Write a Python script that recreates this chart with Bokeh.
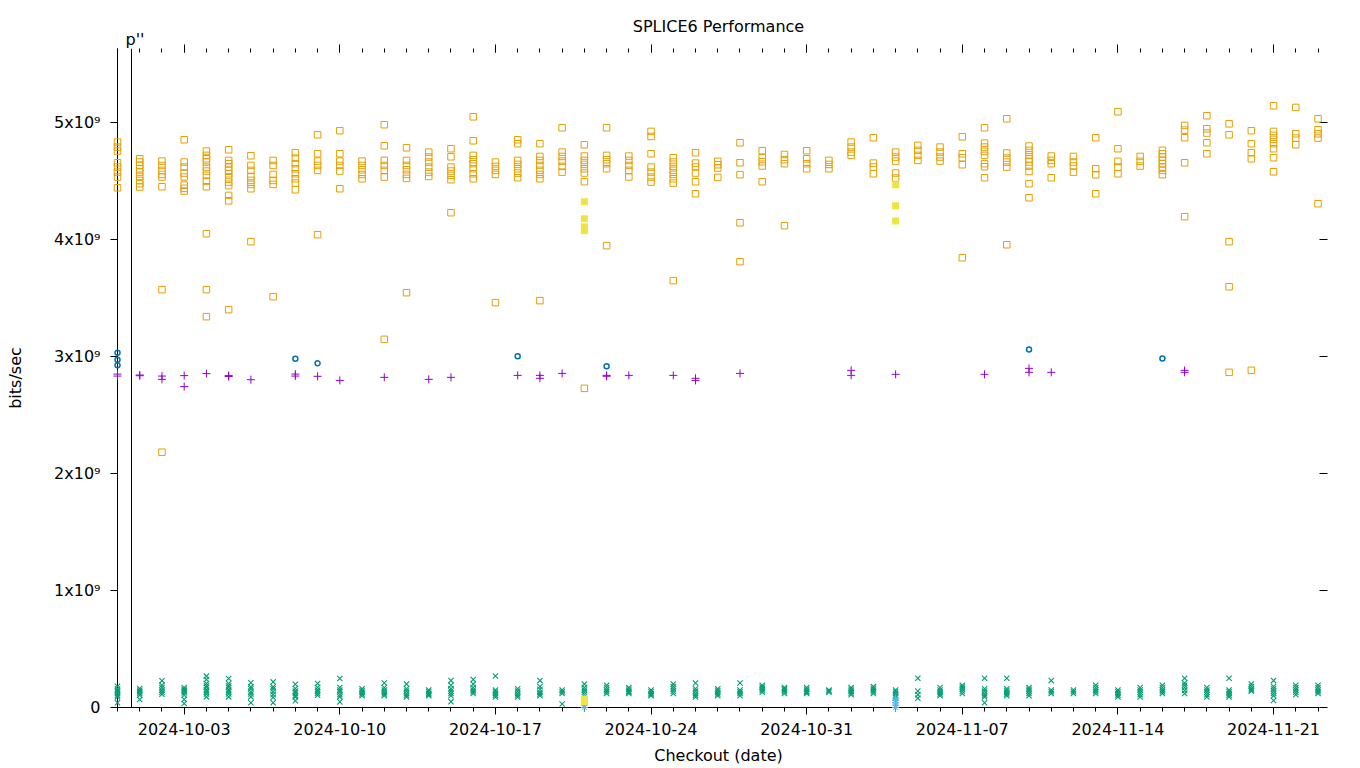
import datetime as dt
from bokeh.plotting import figure
from bokeh.models import (Range1d, FixedTicker, DatetimeTickFormatter, LinearAxis, Span,
                          CustomLabelingPolicy)
from bokeh.core.properties import value
from bokeh.embed import file_html
from bokeh.resources import INLINE

UNIT = 1e9  # values below are in units of 10^9 bits/sec

title_text = "SPLICE6 Performance"
x_label_text = "Checkout (date)"
y_label_text = "bits/sec"
start_day = "2024-09-30"
n_days = 55
x_tick_labels = ["2024-10-03", "2024-10-10", "2024-10-17", "2024-10-24",
                 "2024-10-31", "2024-11-07", "2024-11-14", "2024-11-21"]
y_tick_values = [0, 1, 2, 3, 4, 5]
y_tick_labels = ["0", "1x10\u2079", "2x10\u2079", "3x10\u2079", "4x10\u2079", "5x10\u2079"]

# orange open squares, one list per day (2024-09-30 .. 2024-11-23)
orange_squares = [
    [4.835, 4.792, 4.758, 4.658, 4.621, 4.578, 4.536, 4.444],
    [4.692, 4.664, 4.635, 4.607, 4.578, 4.541, 4.507, 4.479, 4.450],
    [4.672, 4.635, 4.593, 4.558, 4.536, 4.453, 3.573, 2.183],
    [4.855, 4.664, 4.621, 4.570, 4.536, 4.467, 4.439, 4.416],
    [4.758, 4.721, 4.692, 4.664, 4.621, 4.587, 4.550, 4.501, 4.453, 4.051, 3.573, 3.342],
    [4.769, 4.678, 4.650, 4.621, 4.593, 4.564, 4.530, 4.493, 4.462, 4.379, 4.333, 3.402],
    [4.718, 4.635, 4.593, 4.541, 4.507, 4.473, 4.436, 3.983],
    [4.678, 4.635, 4.558, 4.507, 4.473, 3.513],
    [4.744, 4.698, 4.650, 4.607, 4.564, 4.521, 4.484, 4.427],
    [4.897, 4.735, 4.672, 4.635, 4.593, 4.043],
    [4.932, 4.735, 4.672, 4.635, 4.587, 4.436],
    [4.672, 4.635, 4.598, 4.558, 4.521],
    [4.983, 4.803, 4.678, 4.635, 4.593, 4.536, 3.148],
    [4.786, 4.678, 4.635, 4.598, 4.558, 4.524, 3.547],
    [4.749, 4.707, 4.664, 4.621, 4.578, 4.541],
    [4.778, 4.709, 4.621, 4.587, 4.550, 4.513, 4.231],
    [5.051, 4.846, 4.721, 4.684, 4.650, 4.607, 4.564, 4.521],
    [4.664, 4.627, 4.593, 4.558, 3.462],
    [4.855, 4.821, 4.678, 4.644, 4.607, 4.570, 4.530],
    [4.821, 4.712, 4.678, 4.635, 4.593, 4.558, 4.521, 3.479],
    [4.957, 4.749, 4.712, 4.672, 4.627, 4.578],
    [4.812, 4.715, 4.678, 4.644, 4.607, 4.570, 4.496, 2.729],
    [4.957, 4.721, 4.684, 4.650, 4.607, 3.949],
    [4.715, 4.678, 4.635, 4.593, 4.536],
    [4.926, 4.883, 4.735, 4.621, 4.578, 4.536, 4.493],
    [4.701, 4.664, 4.627, 4.593, 4.558, 4.521, 4.484, 3.650],
    [4.744, 4.655, 4.621, 4.570, 4.496, 4.393],
    [4.670, 4.641, 4.613, 4.533],
    [4.829, 4.658, 4.556, 4.145, 3.812],
    [4.761, 4.701, 4.667, 4.630, 4.496],
    [4.729, 4.684, 4.650, 4.120],
    [4.761, 4.692, 4.650, 4.607],
    [4.678, 4.644, 4.607],
    [4.835, 4.792, 4.749, 4.721],
    [4.872, 4.655, 4.621, 4.564],
    [4.749, 4.707, 4.672, 4.570, 4.527],
    [4.806, 4.764, 4.721, 4.678],
    [4.792, 4.749, 4.707, 4.672],
    [4.880, 4.735, 4.701, 4.641, 3.846],
    [4.957, 4.826, 4.792, 4.755, 4.721, 4.650, 4.624, 4.530],
    [5.034, 4.741, 4.698, 4.664, 4.621, 3.957],
    [4.801, 4.764, 4.726, 4.692, 4.664, 4.630, 4.584, 4.479, 4.359],
    [4.715, 4.678, 4.650, 4.530],
    [4.712, 4.664, 4.630, 4.578],
    [4.872, 4.607, 4.556, 4.393],
    [5.094, 4.778, 4.670, 4.621, 4.564],
    [4.712, 4.670, 4.630],
    [4.764, 4.735, 4.707, 4.678, 4.650, 4.621, 4.593, 4.556],
    [4.977, 4.937, 4.872, 4.658, 4.197],
    [5.060, 4.949, 4.912, 4.829, 4.735],
    [4.991, 4.897, 3.983, 3.598, 2.866],
    [4.932, 4.821, 4.744, 4.692, 2.883],
    [5.145, 4.926, 4.892, 4.858, 4.821, 4.778, 4.701, 4.581],
    [5.131, 4.906, 4.869, 4.812],
    [5.034, 4.940, 4.906, 4.869, 4.308],
]

# green crosses, one list per day
green_crosses = [
    [0.182, 0.160, 0.148, 0.134, 0.120, 0.105, 0.091, 0.040],
    [0.162, 0.148, 0.134, 0.120, 0.105, 0.068],
    [0.228, 0.190, 0.170, 0.148, 0.130, 0.114],
    [0.171, 0.155, 0.142, 0.125, 0.105, 0.068, 0.034],
    [0.268, 0.239, 0.205, 0.185, 0.171, 0.150, 0.134, 0.115, 0.091],
    [0.248, 0.205, 0.185, 0.171, 0.150, 0.134, 0.115, 0.091],
    [0.211, 0.177, 0.160, 0.134, 0.115, 0.091, 0.040],
    [0.219, 0.177, 0.160, 0.134, 0.110, 0.085, 0.040],
    [0.199, 0.162, 0.140, 0.125, 0.105, 0.091, 0.057],
    [0.205, 0.171, 0.150, 0.134, 0.120, 0.105],
    [0.248, 0.171, 0.150, 0.134, 0.110, 0.091, 0.048],
    [0.16, 0.145, 0.13, 0.115, 0.10],
    [0.21, 0.17, 0.15, 0.13, 0.115, 0.10],
    [0.20, 0.16, 0.14, 0.12, 0.105, 0.09],
    [0.15, 0.135, 0.12, 0.11, 0.10],
    [0.23, 0.19, 0.16, 0.14, 0.12, 0.10, 0.05],
    [0.24, 0.20, 0.17, 0.15, 0.135, 0.12],
    [0.27, 0.15, 0.135, 0.12, 0.105, 0.09],
    [0.16, 0.14, 0.12, 0.105, 0.09],
    [0.23, 0.18, 0.155, 0.13, 0.115, 0.10],
    [0.15, 0.135, 0.12, 0.03],
    [0.20, 0.17, 0.15, 0.13, 0.11],
    [0.19, 0.17, 0.15, 0.135, 0.12],
    [0.17, 0.155, 0.14, 0.13, 0.12],
    [0.15, 0.135, 0.12, 0.11, 0.10],
    [0.20, 0.18, 0.16, 0.14, 0.12],
    [0.21, 0.16, 0.14, 0.12, 0.105, 0.09],
    [0.16, 0.145, 0.13, 0.115, 0.10],
    [0.21, 0.15, 0.135, 0.12, 0.10],
    [0.19, 0.175, 0.16, 0.145, 0.13],
    [0.17, 0.16, 0.15, 0.135, 0.12],
    [0.17, 0.155, 0.14, 0.13, 0.12],
    [0.15, 0.14, 0.13],
    [0.17, 0.155, 0.14, 0.125, 0.11],
    [0.18, 0.165, 0.15, 0.135, 0.12],
    [0.15, 0.135, 0.12, 0.105, 0.09],
    [0.25, 0.14, 0.11, 0.08],
    [0.17, 0.15, 0.13, 0.115, 0.10],
    [0.19, 0.175, 0.16, 0.14, 0.12],
    [0.25, 0.16, 0.14, 0.12, 0.105, 0.09, 0.04],
    [0.25, 0.16, 0.145, 0.13, 0.115, 0.10],
    [0.17, 0.155, 0.14, 0.12, 0.10],
    [0.23, 0.15, 0.135, 0.12],
    [0.15, 0.135, 0.12],
    [0.19, 0.17, 0.15, 0.135, 0.12],
    [0.15, 0.135, 0.12, 0.105, 0.09],
    [0.17, 0.15, 0.13, 0.11, 0.09],
    [0.19, 0.17, 0.15, 0.135, 0.12],
    [0.25, 0.21, 0.19, 0.17, 0.145, 0.12],
    [0.17, 0.15, 0.13, 0.11, 0.09],
    [0.25, 0.15, 0.135, 0.12, 0.105, 0.09],
    [0.20, 0.18, 0.16, 0.15, 0.14],
    [0.23, 0.18, 0.16, 0.14, 0.12, 0.10, 0.06],
    [0.19, 0.17, 0.15, 0.13, 0.11],
    [0.19, 0.17, 0.15, 0.135, 0.12],
]

purple_dates = ["2024-09-30", "2024-09-30", "2024-10-01", "2024-10-01", "2024-10-02", "2024-10-02",
                "2024-10-03", "2024-10-03", "2024-10-04", "2024-10-05", "2024-10-05", "2024-10-06",
                "2024-10-08", "2024-10-08", "2024-10-09", "2024-10-10", "2024-10-12", "2024-10-14",
                "2024-10-15", "2024-10-18", "2024-10-19", "2024-10-19", "2024-10-20", "2024-10-22",
                "2024-10-22", "2024-10-23", "2024-10-25", "2024-10-26", "2024-10-26", "2024-10-28",
                "2024-11-02", "2024-11-02", "2024-11-04", "2024-11-08", "2024-11-10", "2024-11-10",
                "2024-11-11", "2024-11-17", "2024-11-17"]
purple_values = [2.851, 2.834, 2.843, 2.837, 2.834, 2.806,
                 2.838, 2.744, 2.855, 2.838, 2.830, 2.803,
                 2.851, 2.834, 2.832, 2.797, 2.823, 2.806,
                 2.823, 2.840, 2.840, 2.815, 2.857, 2.840,
                 2.832, 2.840, 2.840, 2.815, 2.797, 2.857,
                 2.883, 2.840, 2.849, 2.849, 2.900, 2.866,
                 2.866, 2.883, 2.866]

blue_dates = ["2024-09-30", "2024-09-30", "2024-09-30", "2024-10-08", "2024-10-09",
              "2024-10-18", "2024-10-22", "2024-11-10", "2024-11-16"]
blue_values = [3.034, 2.974, 2.926, 2.983, 2.943, 3.003, 2.917, 3.062, 2.985]

yellow_dates = ["2024-10-21", "2024-10-21", "2024-10-21", "2024-10-21", "2024-10-21", "2024-10-21",
                "2024-11-04", "2024-11-04", "2024-11-04"]
yellow_values = [4.325, 4.179, 4.110, 4.077, 0.071, 0.050, 4.470, 4.290, 4.160]

sky_dates = ["2024-10-21", "2024-10-21", "2024-10-21",
             "2024-11-04", "2024-11-04", "2024-11-04", "2024-11-04", "2024-11-04"]
sky_values = [0.09, 0.02, 0.0, 0.08, 0.06, 0.04, 0.02, 0.0]

marker_line_day = "2024-09-30"
marker_line_hours = 15.1
marker_text = "p''"

FONT = "DejaVu Sans"


def to_ms(s, hours=0.0):
    d = dt.datetime.strptime(s, "%Y-%m-%d").replace(tzinfo=dt.timezone.utc) + dt.timedelta(hours=hours)
    return d.timestamp() * 1000.0


day0 = dt.datetime.strptime(start_day, "%Y-%m-%d")
all_days = [(day0 + dt.timedelta(days=i)).strftime("%Y-%m-%d") for i in range(n_days)]


def flatten(per_day):
    xs, ys = [], []
    for d, vals in zip(all_days, per_day):
        for v in vals:
            xs.append(to_ms(d))
            ys.append(v * UNIT)
    return xs, ys


def pairs(ds, vs):
    return [to_ms(d) for d in ds], [v * UNIT for v in vs]


x0 = to_ms("2024-09-30")
x1 = to_ms("2024-11-23", 1.6)
y_top = 5.635 * UNIT

p = figure(width=1360, height=768,
           x_range=Range1d(x0, x1), y_range=Range1d(0, y_top),
           x_axis_type="datetime",
           output_backend="svg", toolbar_location=None,
           min_border_left=117, min_border_right=41, min_border_top=48, min_border_bottom=61,
           background_fill_color="white", border_fill_color="white", outline_line_color=None)
p.grid.visible = False

# title
p.title.text = title_text
p.title.align = "center"
p.title.text_font = FONT
p.title.text_font_size = "16px"
p.title.text_font_style = "normal"
p.title.text_color = "black"
p.title.standoff = 17

no_labels = CustomLabelingPolicy(code="return []")

# bottom axis
xa = p.xaxis[0]
xa.ticker = FixedTicker(ticks=[to_ms(d) for d in x_tick_labels],
                        minor_ticks=[to_ms(d) for d in all_days])
fmt = "%Y-%m-%d"
xa.formatter = DatetimeTickFormatter(microseconds=fmt, milliseconds=fmt, seconds=fmt, minsec=fmt,
                                     minutes=fmt, hourmin=fmt, hours=fmt, days=fmt, months=fmt, years=fmt)
xa.axis_label = x_label_text
xa.major_tick_in = 0
xa.major_tick_out = 7
xa.minor_tick_in = 0
xa.minor_tick_out = 4
xa.major_label_standoff = 8
xa.axis_label_standoff = 8

# left axis
ya = p.yaxis[0]
ya.ticker = FixedTicker(ticks=[v * UNIT for v in y_tick_values])
ya.major_label_overrides = {v * UNIT: lab for v, lab in zip(y_tick_values, y_tick_labels)}
ya.axis_label = y_label_text
ya.major_tick_in = 0
ya.major_tick_out = 7
ya.minor_tick_out = 0
ya.minor_tick_in = 0
ya.major_label_standoff = 10
ya.axis_label_standoff = 26

for ax in [xa, ya]:
    ax.axis_line_color = "black"
    ax.axis_line_width = 1
    ax.major_tick_line_color = "black"
    ax.minor_tick_line_color = "black"
    ax.major_label_text_font = FONT
    ax.major_label_text_font_size = "16px"
    ax.major_label_text_color = "black"
    ax.axis_label_text_font = FONT
    ax.axis_label_text_font_size = "16px"
    ax.axis_label_text_font_style = "normal"
    ax.axis_label_text_color = "black"

# mirrored ticks (top / right), labels suppressed
top = LinearAxis(ticker=FixedTicker(ticks=[to_ms(d) for d in x_tick_labels],
                                    minor_ticks=[to_ms(d) for d in all_days]),
                 axis_line_color=None, major_tick_in=4, major_tick_out=4,
                 minor_tick_in=4, minor_tick_out=0, major_label_policy=no_labels,
                 major_label_text_font_size="0px",
                 major_label_standoff=0, major_tick_line_color="black", minor_tick_line_color="black")
p.add_layout(top, "above")
right = LinearAxis(ticker=FixedTicker(ticks=[v * UNIT for v in y_tick_values]),
                   axis_line_color=None, major_tick_in=0, major_tick_out=8,
                   minor_tick_in=0, minor_tick_out=0, major_label_policy=no_labels,
                   major_label_text_font_size="0px",
                   major_label_standoff=0, major_tick_line_color="black")
p.add_layout(right, "right")

# vertical marker line with label
mx = to_ms(marker_line_day, marker_line_hours)
p.add_layout(Span(location=mx, dimension="height", line_color="black", line_width=1))
p.text(x=[mx], y=[y_top], text=[marker_text], text_font=value(FONT), text_font_size="16px",
       text_color="black", text_baseline="alphabetic", text_align="left",
       x_offset=-6, y_offset=-9, level="overlay")

# series (gnuplot order)
px, py = pairs(purple_dates, purple_values)
p.scatter(px, py, marker="cross", size=8, line_color="#9400D3", line_width=1, level="overlay")

gx, gy = flatten(green_crosses)
p.scatter(gx, gy, marker="x", size=7.5, line_color="#009E73", line_width=1.1, level="overlay")

sx, sy = pairs(sky_dates, sky_values)
p.scatter(sx, sy, marker="asterisk", size=7, line_color="#56B4E9", line_width=1, level="overlay")

ox, oy = flatten(orange_squares)
p.scatter(ox, oy, marker="square", size=6.5, fill_color=None, line_color="#E69F00", line_width=1,
          level="overlay")

yx, yy = pairs(yellow_dates, yellow_values)
p.scatter(yx, yy, marker="square", size=7, fill_color="#F0E442", line_color=None, level="overlay")

bx, by = pairs(blue_dates, blue_values)
p.scatter(bx, by, marker="circle", size=5, fill_color=None, line_color="#0072B2", line_width=1.5,
          level="overlay")

open("out.html", "w").write(file_html(p, INLINE))
